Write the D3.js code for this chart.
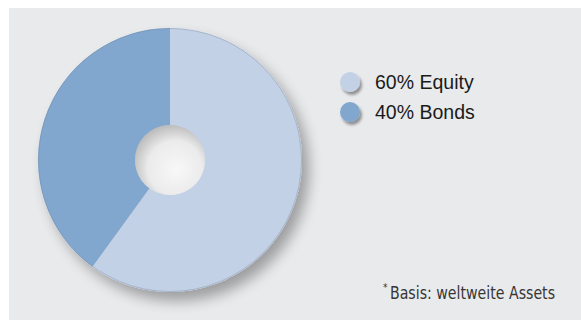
<!DOCTYPE html>
<html>
<head>
<meta charset="utf-8">
<script src="https://cdn.jsdelivr.net/npm/d3@7"></script>
<style>
  body { margin: 0; background: #fff; }
</style>
</head>
<body>
<script>
// chart values
const categories = ['Equity', 'Bonds']
const shares = [60, 40]
const footnote = 'Basis: weltweite Assets'

const width = 581,
    height = 320

const svg = d3.select('body').append('svg')
    .attr('width', width)
    .attr('height', height)

const defs = svg.append('defs')

// soft drop shadow to lower right
const shadow = defs.append('filter')
    .attr('id', 'shadow')
    .attr('x', '-20%').attr('y', '-20%')
    .attr('width', '150%').attr('height', '150%')
shadow.append('feGaussianBlur').attr('in', 'SourceAlpha').attr('stdDeviation', 7)
shadow.append('feOffset').attr('dx', 7).attr('dy', 9).attr('result', 'off')
shadow.append('feComponentTransfer').append('feFuncA').attr('type', 'linear').attr('slope', 0.33)
const merge = shadow.append('feMerge')
merge.append('feMergeNode')
merge.append('feMergeNode').attr('in', 'SourceGraphic')

const smallShadow = defs.append('filter')
    .attr('id', 'smallShadow')
    .attr('x', '-50%').attr('y', '-50%')
    .attr('width', '200%').attr('height', '200%')
smallShadow.append('feGaussianBlur').attr('in', 'SourceAlpha').attr('stdDeviation', 1.5)
smallShadow.append('feOffset').attr('dx', 2).attr('dy', 2.5)
smallShadow.append('feComponentTransfer').append('feFuncA').attr('type', 'linear').attr('slope', 0.4)
const merge2 = smallShadow.append('feMerge')
merge2.append('feMergeNode')
merge2.append('feMergeNode').attr('in', 'SourceGraphic')

// hole shading
const hole = defs.append('radialGradient')
    .attr('id', 'hole')
    .attr('cx', '0.56').attr('cy', '0.6').attr('r', '0.6')
    .attr('fx', '0.6').attr('fy', '0.65')
hole.append('stop').attr('offset', '0%').attr('stop-color', '#f8f8f8')
hole.append('stop').attr('offset', '65%').attr('stop-color', '#ebebeb')
hole.append('stop').attr('offset', '100%').attr('stop-color', '#bdbdbd')

// panel
svg.append('rect')
    .attr('x', 9).attr('y', 8)
    .attr('width', width - 9).attr('height', height - 8)
    .attr('fill', '#e9eaec')

const color = d3.scaleOrdinal()
    .domain(categories)
    .range(['#c3d1e6', '#82a7cf'])

const pie = d3.pie().sort(null).value(d => d.value)
const data = categories.map((c, i) => ({ name: c, value: shares[i] }))

const outerR = 132,
    innerR = 35
const arc = d3.arc().innerRadius(innerR).outerRadius(outerR)

const g = svg.append('g')
    .attr('transform', 'translate(170,160)')

const ring = g.append('g').attr('filter', 'url(#shadow)')
ring.selectAll('path')
    .data(pie(data)).enter()
    .append('path')
    .attr('d', arc)
    .attr('fill', d => color(d.data.name))

// thin rim on the outer edge
g.append('circle')
    .attr('r', outerR - 0.5)
    .attr('fill', 'none')
    .attr('stroke', '#6f829c')
    .attr('stroke-opacity', 0.35)

g.append('circle')
    .attr('r', innerR)
    .attr('fill', 'url(#hole)')

// legend
const legend = svg.append('g')
    .attr('transform', 'translate(350,82)')

const item = legend.selectAll('g')
    .data(data).enter()
    .append('g')
    .attr('transform', (d, i) => `translate(0,${i * 30})`)

item.append('circle')
    .attr('r', 10)
    .attr('fill', d => color(d.name))
    .attr('filter', 'url(#smallShadow)')

item.append('text')
    .attr('x', 25)
    .attr('y', 7)
    .attr('font-family', 'Liberation Sans, Arial, sans-serif')
    .attr('font-size', 19.5)
    .attr('fill', '#1a1a1a')
    .text(d => `${d.value}% ${d.name}`)

// footnote
const note = svg.append('text')
    .attr('x', 383)
    .attr('y', 299)
    .attr('font-family', 'DejaVu Sans Condensed, sans-serif')
    .attr('font-size', 17)
    .attr('fill', '#363636')
note.append('tspan')
    .attr('font-size', 10)
    .attr('dy', -8)
    .text('*')
note.append('tspan')
    .attr('x', 390)
    .attr('dy', 8)
    .attr('textLength', 165)
    .attr('lengthAdjust', 'spacingAndGlyphs')
    .text(footnote)
</script>
</body>
</html>
